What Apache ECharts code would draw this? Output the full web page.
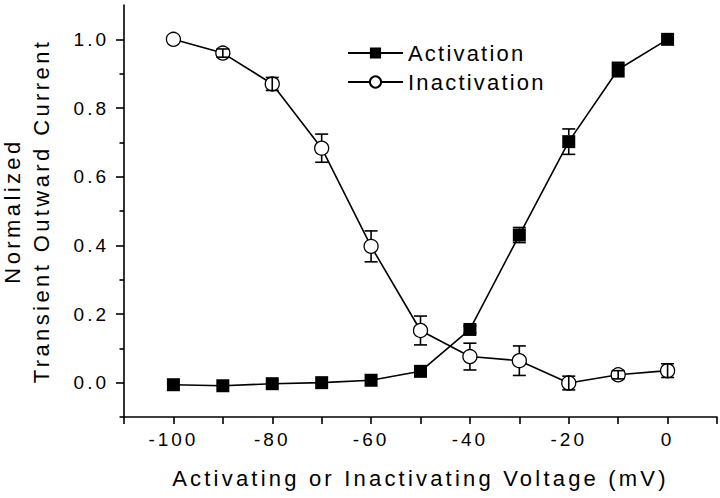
<!DOCTYPE html>
<html>
<head>
<meta charset="utf-8">
<script src="https://cdn.jsdelivr.net/npm/echarts@6/dist/echarts.min.js"></script>
<style>
html,body{margin:0;padding:0;background:#fff;}
#chart{width:720px;height:498px;}
</style>
</head>
<body>
<div id="chart"></div>
<script>
// ---- data ----
const voltages = [-100, -90, -80, -70, -60, -50, -40, -30, -20, -10, 0];
const activation = [-0.006, -0.009, -0.003, 0.0, 0.007, 0.033, 0.155, 0.430, 0.702, 0.912, 1.0];
const activationErr = [0, 0, 0, 0, 0, 0, 0.01, 0.022, 0.037, 0.021, 0];
const inactivation = [1.0, 0.960, 0.870, 0.683, 0.397, 0.152, 0.076, 0.064, -0.001, 0.023, 0.035];
const inactivationErr = [0, 0.012, 0.019, 0.041, 0.045, 0.042, 0.039, 0.043, 0.02, 0.012, 0.02];
const xTickLabels = [-100, -80, -60, -40, -20, 0];
const yTickLabels = [0, 0.2, 0.4, 0.6, 0.8, 1.0];
const yMinorTicks = [-0.1, 0.1, 0.3, 0.5, 0.7, 0.9];
const seriesNames = ['Activation', 'Inactivation'];
const xTitle = 'Activating or Inactivating Voltage (mV)';
const yTitleLines = ['Normalized', 'Transient Outward Current'];

const FONT = 'Liberation Sans, Arial, Helvetica, sans-serif';

function pairs(ys) { return voltages.map((v, i) => [v, ys[i]]); }
function errData(ys, es) { return voltages.map((v, i) => [v, ys[i], es[i]]); }

function errRender(radius) {
  return function (params, api) {
    const x = api.value(0), y = api.value(1), e = api.value(2);
    if (!e) return null;
    const c = api.coord([x, y]);
    const h = api.size([0, e])[1];
    const cw = 6.5;
    const st = { stroke: '#000', lineWidth: 1.6, fill: null };
    const ch = [];
    if (h <= radius) {
      ch.push({ type: 'line', shape: { x1: c[0], y1: c[1] - h, x2: c[0], y2: c[1] + h }, style: st });
    } else {
      ch.push({ type: 'line', shape: { x1: c[0], y1: c[1] - h, x2: c[0], y2: c[1] - radius }, style: st });
      ch.push({ type: 'line', shape: { x1: c[0], y1: c[1] + radius, x2: c[0], y2: c[1] + h }, style: st });
    }
    ch.push({ type: 'line', shape: { x1: c[0] - cw, y1: c[1] - h, x2: c[0] + cw, y2: c[1] - h }, style: st });
    ch.push({ type: 'line', shape: { x1: c[0] - cw, y1: c[1] + h, x2: c[0] + cw, y2: c[1] + h }, style: st });
    return { type: 'group', children: ch };
  };
}

const chart = echarts.init(document.getElementById('chart'), null, { renderer: 'svg' });
chart.setOption({
  animation: false,
  backgroundColor: '#fff',
  grid: { left: 124, right: 3, top: 5, bottom: 81, containLabel: false, outerBoundsMode: 'none' },
  legend: {
    orient: 'vertical',
    left: 342,
    top: 37,
    itemWidth: 55,
    itemHeight: 14,
    itemGap: 7,
    data: seriesNames,
    textStyle: { fontSize: 22, color: '#000', fontFamily: FONT }
  },
  xAxis: {
    type: 'value',
    min: -110, max: 10, interval: 10,
    name: xTitle,
    nameLocation: 'middle',
    nameGap: 50,
    nameTextStyle: { fontSize: 22, color: '#000', fontFamily: FONT },
    axisLine: { onZero: false, lineStyle: { color: '#000', width: 1.6 } },
    axisTick: { length: 7, lineStyle: { color: '#000', width: 1.6 } },
    axisLabel: { customValues: xTickLabels, fontSize: 19, color: '#000', fontFamily: FONT, margin: 13 },
    splitLine: { show: false }
  },
  yAxis: [{
    type: 'value',
    min: -0.1, max: 1.1,
    name: yTitleLines.join('\n'),
    nameLocation: 'middle',
    nameGap: 68,
    nameTextStyle: { fontSize: 22, lineHeight: 29, color: '#000', fontFamily: FONT },
    axisLine: { onZero: false, lineStyle: { color: '#000', width: 1.6 } },
    axisTick: { customValues: yTickLabels, length: 8, lineStyle: { color: '#000', width: 1.6 } },
    axisLabel: { customValues: yTickLabels, formatter: v => v.toFixed(1), fontSize: 19, color: '#000', fontFamily: FONT, margin: 15 },
    splitLine: { show: false }
  }, {
    type: 'value',
    min: -0.1, max: 1.1,
    position: 'left',
    offset: 0,
    axisLine: { show: false, onZero: false },
    axisTick: { customValues: yMinorTicks, length: 4.5, lineStyle: { color: '#000', width: 1.6 } },
    axisLabel: { show: false },
    splitLine: { show: false }
  }],
  series: [{
    name: seriesNames[0],
    type: 'line',
    data: pairs(activation),
    symbol: 'rect',
    symbolSize: 13,
    showAllSymbol: true,
    lineStyle: { color: '#000', width: 1.6 },
    itemStyle: { color: '#000', borderColor: '#000', borderWidth: 0 },
    z: 3
  }, {
    name: seriesNames[1],
    type: 'line',
    data: pairs(inactivation),
    symbol: 'circle',
    symbolSize: 14,
    showAllSymbol: true,
    lineStyle: { color: '#000', width: 1.6 },
    itemStyle: { color: '#fff', borderColor: '#000', borderWidth: 1.3 },
    z: 3
  }, {
    type: 'custom',
    data: errData(activation, activationErr),
    renderItem: errRender(6.5),
    z: 5, silent: true
  }, {
    type: 'custom',
    data: errData(inactivation, inactivationErr),
    renderItem: errRender(7),
    z: 5, silent: true
  }]
});

function applySpacing() {
  document.querySelectorAll('#chart text').forEach(t => {
    const s = (t.textContent || '').replace(/\s+/g, ' ').trim();
    let sp = '3px';
    if (s.indexOf('Normalized') >= 0 || s.indexOf('Transient') >= 0) sp = '3.4px';
    else if (s.indexOf('Voltage') >= 0) sp = '3.2px';
    else if (s === seriesNames[0] || s === seriesNames[1]) sp = '2.2px';
    t.style.letterSpacing = sp;
  });
}
applySpacing();
chart.on('finished', applySpacing);
setTimeout(applySpacing, 50);
</script>
</body>
</html>
